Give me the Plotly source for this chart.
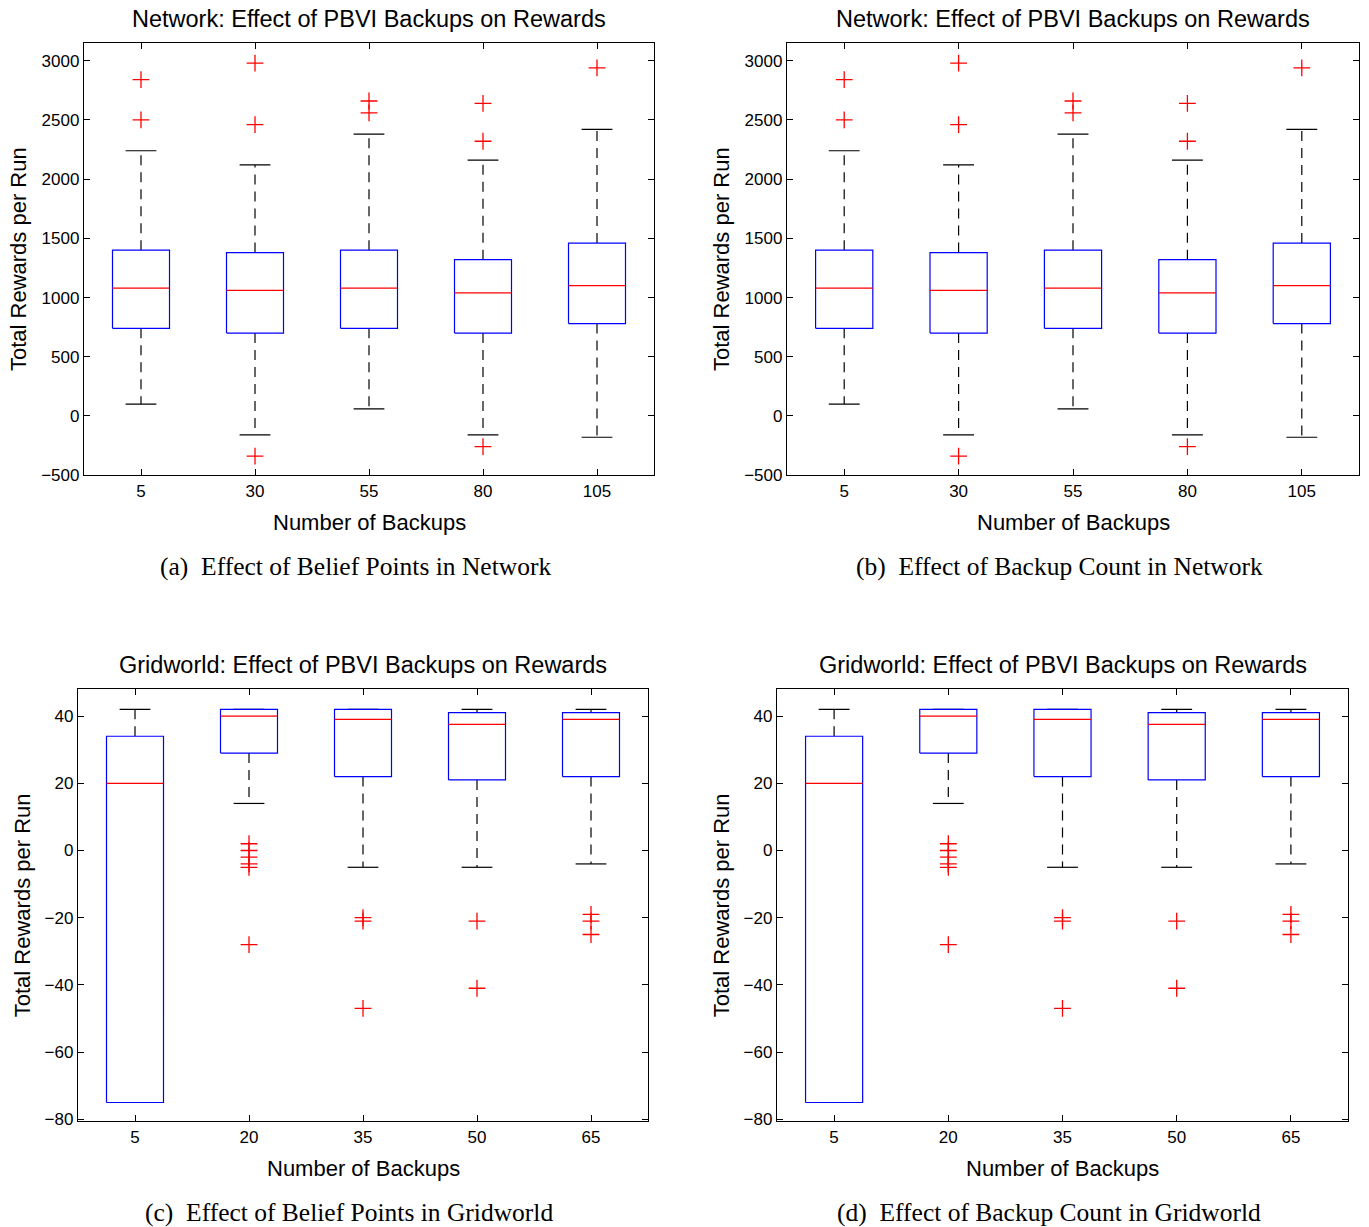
import plotly.graph_objects as go

W, H = 1369, 1227
YS = 1.0085  # small vertical correction of the measured pixel positions

# ---------------- data ----------------
net_labels = ["5", "30", "55", "80", "105"]
net_q1 = [740, 700, 740, 700, 780]
net_med = [1080, 1060, 1080, 1040, 1100]
net_q3 = [1400, 1380, 1400, 1320, 1460]
net_lo = [100, -160, 60, -160, -180]
net_hi = [2240, 2120, 2380, 2160, 2420]
net_out = [[2500, 2840], [2460, 2980, -340], [2560, 2660], [2320, 2640, -260], [2940]]

grid_labels = ["5", "20", "35", "50", "65"]
grid_q1 = [-75, 29, 22, 21, 22]
grid_med = [20, 40, 39, 37.5, 39]
grid_q3 = [34, 42, 42, 41, 41]
grid_lo = [-75, 14, -5, -5, -4]
grid_hi = [42, 42, 42, 42, 42]
grid_out = [[], [2, 0, -2, -4, -5, -28], [-20, -21, -47], [-21, -41], [-19, -21, -25]]

net_title = "Network: Effect of PBVI Backups on Rewards"
grid_title = "Gridworld: Effect of PBVI Backups on Rewards"
xlab = "Number of Backups"
ylab = "Total Rewards per Run"
captions = ["(a)  Effect of Belief Points in Network",
            "(b)  Effect of Backup Count in Network",
            "(c)  Effect of Belief Points in Gridworld",
            "(d)  Effect of Backup Count in Gridworld"]

net_yticks = [-500, 0, 500, 1000, 1500, 2000, 2500, 3000]
grid_yticks = [-80, -60, -40, -20, 0, 20, 40]

# panel pixel boxes: left, right, top, bottom
panels = [
    (84, 654, 43, 475),
    (787, 1359, 43, 475),
    (78, 648, 689, 1121),
    (777, 1348, 689, 1121),
]

SANS = "Liberation Sans, Arial, Helvetica, sans-serif"
SERIF = "Liberation Serif, Times New Roman, serif"

fig = go.Figure()

def px2x(p):
    return p / W

def px2y(p):
    return max(0.0, 1 - p * YS / H)

annotations = []

def add_panel(k, labels, q1, med, q3, lo, hi, outs, yrange, yticks, title, caption, ylab_gap):
    xa = "x" if k == 0 else f"x{k+1}"
    ya = "y" if k == 0 else f"y{k+1}"
    n = len(labels)
    bw = 0.25
    cw = 0.135
    for i in range(n):
        c = i + 1
        fig.add_trace(go.Scatter(x=[c, c, None, c, c], y=[q3[i], hi[i], None, q1[i], lo[i]],
                                 mode="lines", line=dict(color="black", width=1.2, dash="10px,7px"),
                                 xaxis=xa, yaxis=ya, showlegend=False, hoverinfo="skip"))
        fig.add_trace(go.Scatter(x=[c - cw, c + cw, None, c - cw, c + cw],
                                 y=[hi[i], hi[i], None, lo[i], lo[i]],
                                 mode="lines", line=dict(color="black", width=1.2),
                                 xaxis=xa, yaxis=ya, showlegend=False, hoverinfo="skip"))
        fig.add_trace(go.Scatter(x=[c - bw, c + bw, c + bw, c - bw, c - bw],
                                 y=[q1[i], q1[i], q3[i], q3[i], q1[i]],
                                 mode="lines", line=dict(color="blue", width=1.2),
                                 fill="toself", fillcolor="white",
                                 xaxis=xa, yaxis=ya, showlegend=False, hoverinfo="skip"))
        fig.add_trace(go.Scatter(x=[c - bw, c + bw], y=[med[i], med[i]],
                                 mode="lines", line=dict(color="red", width=1.2),
                                 xaxis=xa, yaxis=ya, showlegend=False, hoverinfo="skip"))
        if outs[i]:
            fig.add_trace(go.Scatter(x=[c] * len(outs[i]), y=outs[i], mode="markers",
                                     marker=dict(symbol="cross-thin", size=12,
                                                 line=dict(color="red", width=1.3)),
                                     xaxis=xa, yaxis=ya, showlegend=False, hoverinfo="skip"))
    L, R, T, B = panels[k]
    axis_common = dict(showgrid=False, zeroline=False, showline=True, linecolor="black",
                       linewidth=1.3, mirror="ticks", ticks="inside", ticklen=6,
                       tickcolor="black", tickfont=dict(family=SANS, size=17, color="black"))
    fig.update_layout(**{
        ("xaxis" if k == 0 else f"xaxis{k+1}"): dict(
            domain=[px2x(L), px2x(R)], anchor=ya, range=[0.5, n + 0.5],
            tickmode="array", tickvals=list(range(1, n + 1)), ticktext=labels, **axis_common),
        ("yaxis" if k == 0 else f"yaxis{k+1}"): dict(
            domain=[px2y(B), px2y(T)], anchor=xa, range=yrange,
            tickmode="array", tickvals=yticks,
            ticktext=[("\u2212" + str(-v)) if v < 0 else str(v) for v in yticks],
            **axis_common),
    })
    cx = (L + R) / 2
    annotations.append(dict(text=title, x=px2x(cx), y=px2y(T - 24), xref="paper", yref="paper",
                            showarrow=False, xanchor="center", yanchor="middle",
                            font=dict(family=SANS, size=23.5, color="black")))
    annotations.append(dict(text=xlab, x=px2x(cx), y=px2y(B + 47), xref="paper", yref="paper",
                            showarrow=False, xanchor="center", yanchor="middle",
                            font=dict(family=SANS, size=22, color="black")))
    annotations.append(dict(text=ylab, x=px2x(L - ylab_gap), y=px2y((T + B) / 2), xref="paper",
                            yref="paper", showarrow=False, xanchor="center", yanchor="middle",
                            textangle=-90, font=dict(family=SANS, size=22, color="black")))
    annotations.append(dict(text=caption, x=px2x(cx - 14), y=px2y(B + 91), xref="paper",
                            yref="paper", showarrow=False, xanchor="center", yanchor="middle",
                            font=dict(family=SERIF, size=25.5, color="black")))

net_range = [-500, 3150]
grid_range = [-80.6, 48]
add_panel(0, net_labels, net_q1, net_med, net_q3, net_lo, net_hi, net_out, net_range,
          net_yticks, net_title, captions[0], 66)
add_panel(1, net_labels, net_q1, net_med, net_q3, net_lo, net_hi, net_out, net_range,
          net_yticks, net_title, captions[1], 66)
add_panel(2, grid_labels, grid_q1, grid_med, grid_q3, grid_lo, grid_hi, grid_out, grid_range,
          grid_yticks, grid_title, captions[2], 56)
add_panel(3, grid_labels, grid_q1, grid_med, grid_q3, grid_lo, grid_hi, grid_out, grid_range,
          grid_yticks, grid_title, captions[3], 56)

fig.update_layout(width=W, height=H, margin=dict(l=0, r=0, t=0, b=0),
                  paper_bgcolor="white", plot_bgcolor="white", annotations=annotations,
                  showlegend=False)

post = ("document.documentElement.style.margin='0';document.documentElement.style.padding='0';"
        "document.body.style.margin='0';document.body.style.padding='0';"
        "document.documentElement.style.overflow='hidden';document.body.style.overflow='hidden';")

fig.write_html("out.html", post_script=post, config={"displayModeBar": False})
